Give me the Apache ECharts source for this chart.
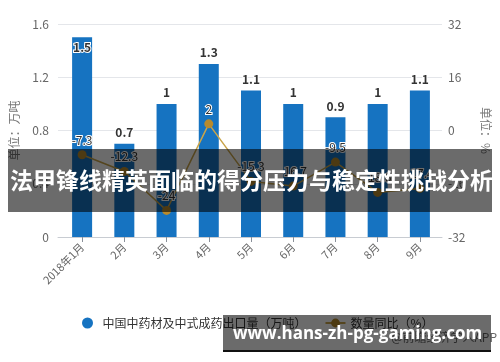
<!DOCTYPE html>
<html>
<head>
<meta charset="utf-8">
<script src="https://cdn.jsdelivr.net/npm/echarts@6/dist/echarts.min.js"></script>
<style>
  html, body { margin: 0; padding: 0; background: #fff; }
  #chart { width: 500px; height: 362px; }
</style>
</head>
<body>
<div id="chart"></div>
<script>
// Monthly export volume of Chinese herbal medicines (10k tonnes) and YoY change (%)
var categories = ['2018年1月', '2月', '3月', '4月', '5月', '6月', '7月', '8月', '9月'];
var exportVolume = [1.5, 0.7, 1, 1.3, 1.1, 1, 0.9, 1, 1.1];
var yoyChange = [-7.3, -12.3, -24, 2, -15.3, -16.7, -9.5, -18.6, -17.4];
var leftTicks = { min: 0, max: 1.6, interval: 0.4 };
var rightTicks = { min: -32, max: 32, interval: 16 };

var FONT = '"Noto Sans CJK SC", "Noto Sans", sans-serif';
var BAR_COLOR = '#1673c1';
var LINE_COLOR = '#c9a44a';
var DOT_COLOR = '#b88a2c';

var barData = exportVolume.map(function (v, i) {
  // the tallest bar reaches the top of the plot, so its label sits inside
  if (i === 0) {
    return { value: v, label: { position: 'insideTop', distance: 4 } };
  }
  return v;
});

var chart = echarts.init(document.getElementById('chart'), null, { renderer: 'canvas' });

chart.setOption({
  backgroundColor: '#fff',
  textStyle: { fontFamily: FONT },
  animation: false,
  grid: [
    // frame grid: split lines, axis labels and the baseline
    { left: 50, right: 50, top: 24, bottom: 125 },
    // data grid: bars and line
    { left: 61, right: 59, top: 24, bottom: 125 }
  ],
  legend: {
    left: 77,
    top: 312,
    itemGap: 18,
    itemWidth: 20,
    itemHeight: 11,
    textStyle: { color: '#333', fontSize: 12, fontFamily: FONT },
    data: [
      { name: '中国中药材及中式成药出口量（万吨）', icon: 'circle', itemStyle: { color: BAR_COLOR } },
      { name: '数量同比（%）' }
    ]
  },
  xAxis: [
    {
      gridIndex: 0, type: 'value', min: 0, max: 1,
      axisLine: { show: true, onZero: false, lineStyle: { color: '#c8ccd2', width: 1 } },
      axisTick: { show: false }, axisLabel: { show: false }, splitLine: { show: false }
    },
    {
      gridIndex: 1, type: 'category', data: categories,
      axisLine: { show: false, onZero: false },
      axisTick: { show: true, alignWithLabel: true, length: 5, lineStyle: { color: '#8a9099' } },
      axisLabel: { rotate: 45, color: '#666', fontSize: 11, margin: 8, fontFamily: FONT },
      splitLine: { show: false }
    }
  ],
  yAxis: [
    {
      gridIndex: 0, type: 'value', position: 'left',
      min: leftTicks.min, max: leftTicks.max, interval: leftTicks.interval,
      name: '单位：万吨', nameLocation: 'middle', nameGap: 38, nameRotate: 90,
      nameTextStyle: { color: '#777', fontSize: 12, fontFamily: FONT },
      axisLine: { show: false }, axisTick: { show: false },
      axisLabel: { color: '#666', fontSize: 12, margin: 9, fontFamily: FONT },
      splitLine: { show: true, lineStyle: { color: '#e4e6ea', width: 1 } }
    },
    {
      gridIndex: 0, type: 'value', position: 'right',
      min: rightTicks.min, max: rightTicks.max, interval: rightTicks.interval,
      name: '单位：%', nameLocation: 'middle', nameGap: 38, nameRotate: -90,
      nameTextStyle: { color: '#777', fontSize: 12, fontFamily: FONT },
      axisLine: { show: false }, axisTick: { show: false },
      axisLabel: { color: '#666', fontSize: 12, margin: 6, fontFamily: FONT },
      splitLine: { show: false }
    },
    {
      gridIndex: 1, type: 'value', show: false,
      min: leftTicks.min, max: leftTicks.max, interval: leftTicks.interval
    },
    {
      gridIndex: 1, type: 'value', show: false,
      min: rightTicks.min, max: rightTicks.max, interval: rightTicks.interval
    }
  ],
  series: [
    {
      name: '中国中药材及中式成药出口量（万吨）',
      type: 'bar',
      xAxisIndex: 1, yAxisIndex: 2,
      barWidth: 20,
      data: barData,
      itemStyle: { color: BAR_COLOR },
      label: {
        show: true, position: 'top', distance: 5,
        color: '#333', fontSize: 12, fontWeight: 'bold', fontFamily: FONT,
        textBorderColor: '#fff', textBorderWidth: 2
      },
      z: 2
    },
    {
      name: '数量同比（%）',
      type: 'line',
      xAxisIndex: 1, yAxisIndex: 3,
      data: yoyChange,
      symbol: 'circle', symbolSize: 9,
      lineStyle: { color: LINE_COLOR, width: 1.5 },
      itemStyle: { color: DOT_COLOR },
      label: {
        show: true, position: 'top', distance: 4,
        color: '#333', fontSize: 12, fontFamily: FONT,
        textBorderColor: '#fff', textBorderWidth: 2
      },
      z: 3
    }
  ],
  graphic: [
    {
      type: 'text', right: 3, top: 331, z: 10,
      style: { text: '@前瞻经济学人APP', fill: '#666', fontSize: 12, fontFamily: FONT }
    },
    {
      type: 'rect', left: 8, top: 149, z: 50,
      shape: { width: 484, height: 63 },
      style: { fill: 'rgba(0,0,0,0.58)' }
    },
    {
      type: 'text', left: 10, top: 169, z: 51,
      style: {
        text: '法甲锋线精英面临的得分压力与稳定性挑战分析',
        fill: '#fff', fontSize: 23, fontWeight: 'bold', fontFamily: FONT
      }
    },
    {
      type: 'rect', left: 223, top: 315, z: 50,
      shape: { width: 268, height: 35 },
      style: { fill: 'rgba(0,0,0,0.58)' }
    },
    {
      type: 'rect', left: 223, top: 350, z: 50,
      shape: { width: 268, height: 2 },
      style: { fill: '#111' }
    },
    {
      type: 'text', left: 233, top: 326, z: 51,
      style: {
        text: 'www.hans-zh-pg-gaming.com',
        fill: '#fff', fontSize: 17, fontWeight: 'bold', fontFamily: '"Open Sans", "Noto Sans", sans-serif'
      }
    }
  ]
});
</script>
</body>
</html>
